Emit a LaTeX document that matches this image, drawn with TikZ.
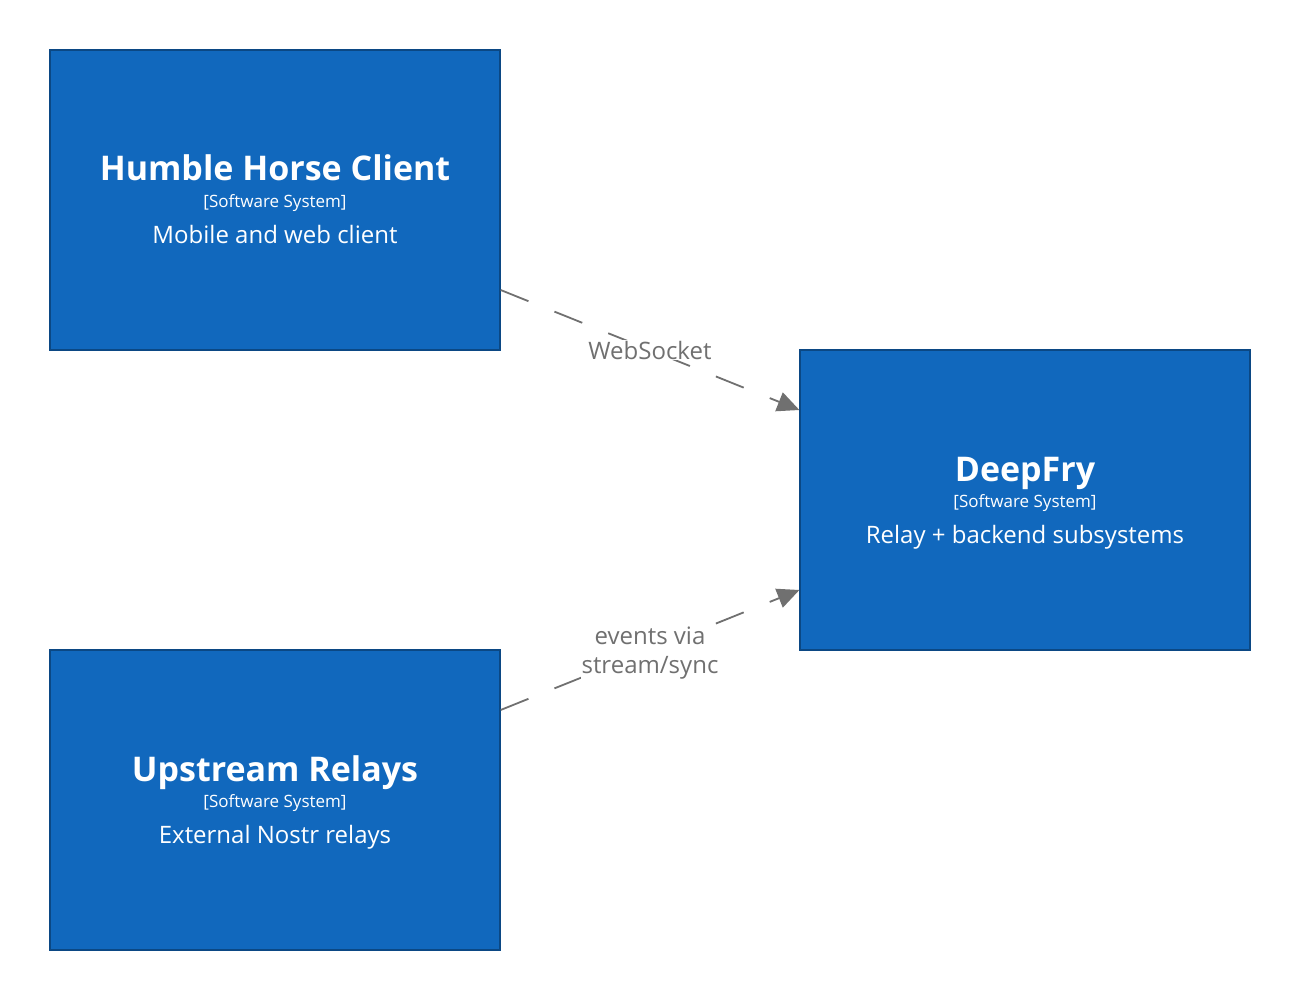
\documentclass[tikz,border=0pt]{standalone}
\usepackage{fontspec}
\setmainfont{Open Sans}
\usetikzlibrary{arrows.meta}
\definecolor{sysblue}{HTML}{1168BD}
\definecolor{sysedge}{HTML}{0B4884}
\definecolor{relgray}{HTML}{707070}
\tikzset{
  sysbox/.style={draw=sysedge,line width=1.2pt,fill=sysblue,minimum width=450pt,minimum height=300pt,inner sep=0pt},
  systitle/.style={anchor=base,text=white,font=\fontsize{34}{40}\selectfont\bfseries,inner sep=0pt},
  systype/.style={anchor=base,text=white,font=\fontsize{17}{20}\selectfont,inner sep=0pt},
  sysdesc/.style={anchor=base,text=white,font=\fontsize{24}{29}\selectfont,inner sep=0pt},
  rel/.style={draw=relgray,line width=1.8pt,dash pattern=on 30pt off 28pt,-{Triangle[length=22pt,width=20pt]}},
  rellabel/.style={fill=white,text=relgray,font=\fontsize{24}{29}\selectfont,align=center,inner sep=1pt}
}
\begin{document}
\begin{tikzpicture}[x=1pt,y=-1pt]
    \useasboundingbox (0,0) rectangle (1300,1000);
    % systems
    \node[sysbox] (client) at (275,200) {};
    \node[systitle] (clientname) at ([yshift=19pt]client.center) {Humble Horse Client};
    \node[systype] (clienttype) at ([yshift=-7.5pt]client.center) {[Software System]};
    \node[sysdesc] (clientdesc) at ([yshift=-43.5pt]client.center) {Mobile and web client};
    \node[sysbox] (deepfry) at (1025,500) {};
    \node[systitle] (deepfryname) at ([yshift=19pt]deepfry.center) {DeepFry};
    \node[systype] (deepfrytype) at ([yshift=-7.5pt]deepfry.center) {[Software System]};
    \node[sysdesc] (deepfrydesc) at ([yshift=-43.5pt]deepfry.center) {Relay + backend subsystems};
    \node[sysbox] (relays) at (275,800) {};
    \node[systitle] (relaysname) at ([yshift=19pt]relays.center) {Upstream Relays};
    \node[systype] (relaystype) at ([yshift=-7.5pt]relays.center) {[Software System]};
    \node[sysdesc] (relaysdesc) at ([yshift=-43.5pt]relays.center) {External Nostr relays};
    % relationships
    \draw[rel] ([yshift=-90pt]client.east) -- ([yshift=90pt]deepfry.west) node[midway,rellabel]{WebSocket};
    \draw[rel] ([yshift=90pt]relays.east) -- ([yshift=-90pt]deepfry.west) node[midway,yshift=-3pt,rellabel]{events via\\stream/sync};
\end{tikzpicture}
\end{document}
